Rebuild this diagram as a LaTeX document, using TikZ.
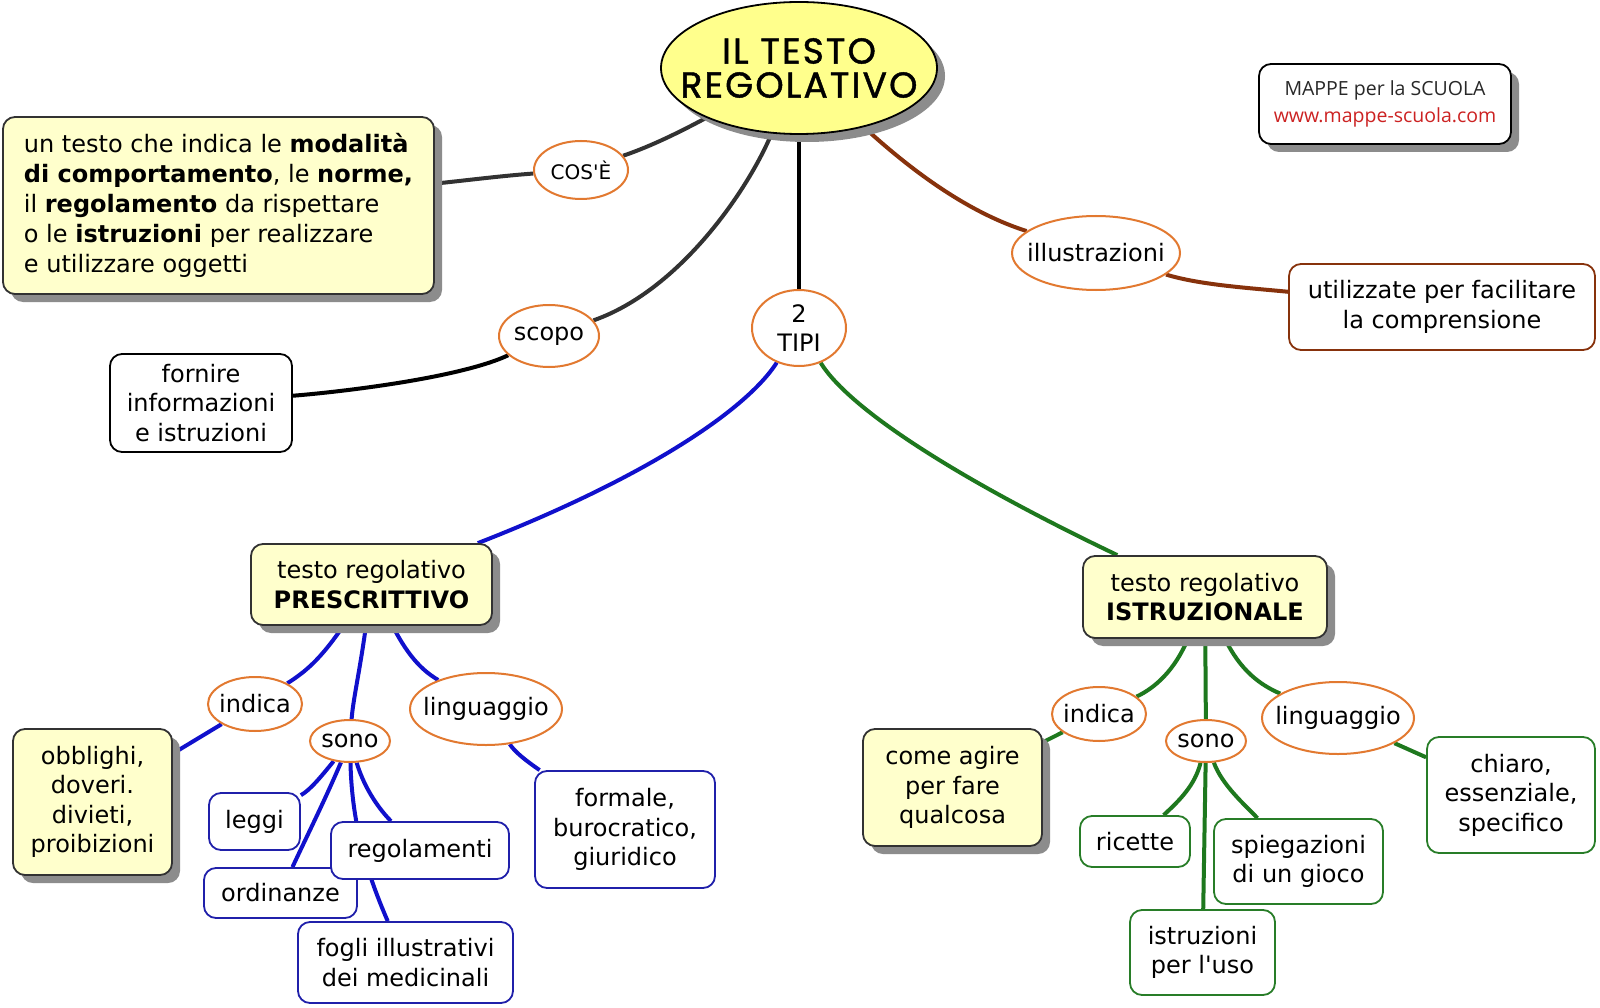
\documentclass[tikz,border=0pt]{standalone}
\usepackage{fontspec}
\setmainfont{DejaVu Sans}
\newfontfamily\titlefont[LetterSpace=6,FakeBold=1.2]{Poppins}
\newfontfamily\wmfont{Open Sans}
\usetikzlibrary{shapes.geometric,shadows}
\pgfdeclarelayer{bg}
\pgfsetlayers{bg,main}
\definecolor{orangeE}{RGB}{226,121,48}
\definecolor{blueL}{RGB}{16,16,204}
\definecolor{blueB}{RGB}{32,32,170}
\definecolor{greenL}{RGB}{30,120,30}
\definecolor{greenB}{RGB}{40,125,40}
\definecolor{brownL}{RGB}{135,50,12}
\definecolor{darkL}{RGB}{50,50,50}
\definecolor{titleY}{RGB}{255,255,140}
\definecolor{lightY}{RGB}{255,255,204}
\definecolor{shadowG}{RGB}{140,140,140}
\definecolor{wmred}{RGB}{204,34,34}
\definecolor{wmgray}{RGB}{40,40,40}
\newcommand\zw[1]{\makebox[0pt]{#1}}
\begin{document}
\begin{tikzpicture}[x=1pt,y=-1pt,
  txt/.style={font=\fontsize{24}{29.5}\selectfont},
  ell/.style={txt,ellipse,draw=orangeE,line width=2pt,fill=white,inner sep=0pt,align=center},
  box/.style={txt,rectangle,rounded corners=12pt,draw=black,line width=1.8pt,fill=white,inner sep=0pt,align=center},
  shad/.style={drop shadow={shadow xshift=8pt,shadow yshift=-8pt,fill=shadowG,opacity=1}},
  ybox/.style={box,fill=lightY,draw=darkL,shad},
  bbox/.style={box,draw=blueB},
  gbox/.style={box,draw=greenB},
  conn/.style={line width=4pt},
  dk/.style={conn,draw=darkL},
  bk/.style={conn,draw=black},
  br/.style={conn,draw=brownL},
  bl/.style={conn,draw=blueL},
  gr/.style={conn,draw=greenL}]
\useasboundingbox (0,0) rectangle (1600,1008);

% title and watermark
\node[ellipse,draw=black,line width=1.8pt,fill=titleY,shad,minimum width=276pt,minimum height=132pt,inner sep=0pt,align=center,
      font=\titlefont\fontsize{36}{34}\selectfont] (title) at (799,68) {\zw{IL TESTO}\\\zw{REGOLATIVO}};
\node[box,shad,minimum width=252pt,minimum height=80pt,font=\wmfont\fontsize{19.5}{27.5}\selectfont,text=wmgray] (wm) at (1385,104)
  {MAPPE per la SCUOLA\\\textcolor{wmred}{www.mappe-scuola.com}};

% top level
\node[ybox,minimum width=431pt,minimum height=177pt,align=left,font=\fontsize{24}{30}\selectfont] (defbox) at (218.5,205.5)
  {un testo che indica le \textbf{modalità}\\\textbf{di comportamento}, le \textbf{norme,}\\il \textbf{regolamento} da rispettare\\o le \textbf{istruzioni} per realizzare\\e utilizzare oggetti};
\node[ell,minimum width=94pt,minimum height=58pt,font=\fontsize{20}{24}\selectfont] (cose) at (581,170) {\zw{COS\textquotesingle È}};
\node[ell,minimum width=100pt,minimum height=62pt] (scopo) at (549,336) {\zw{scopo}};
\node[box,minimum width=182pt,minimum height=98pt] (fornire) at (201,403) {fornire\\informazioni\\e istruzioni};
\node[ell,minimum width=94pt,minimum height=76pt,font=\fontsize{24}{28.5}\selectfont] (tipi) at (799,328) {2\\TIPI};
\node[ell,minimum width=168pt,minimum height=74pt] (illus) at (1096,253) {\zw{illustrazioni}};
\node[box,draw=brownL,minimum width=306pt,minimum height=86pt] (utiliz) at (1442,307) {utilizzate per facilitare\\la comprensione};

% prescrittivo
\node[ybox,minimum width=241pt,minimum height=81pt] (presc) at (371.5,584.5) {testo regolativo\\\textbf{PRESCRITTIVO}};
\node[ell,minimum width=94pt,minimum height=54pt] (indA) at (255,704) {\zw{indica}};
\node[ell,minimum width=80pt,minimum height=42pt] (sonoA) at (350,741) {\zw{sono}};
\node[ell,minimum width=152pt,minimum height=72pt] (lingA) at (486,709) {\zw{linguaggio}};
\node[ybox,minimum width=159pt,minimum height=146pt] (obbl) at (92.5,802) {obblighi,\\doveri.\\divieti,\\proibizioni};
\node[bbox,minimum width=91pt,minimum height=57pt] (leggi) at (254.5,821.5) {leggi};
\node[bbox,minimum width=153pt,minimum height=50pt] (ordin) at (280.5,893) {ordinanze};
\node[bbox,minimum width=178pt,minimum height=57pt] (regol) at (420,850.5) {regolamenti};
\node[bbox,minimum width=215pt,minimum height=81pt] (fogli) at (405.5,962.5) {fogli illustrativi\\dei medicinali};
\node[bbox,minimum width=180pt,minimum height=117pt] (formale) at (625,829.5) {formale,\\burocratico,\\giuridico};

% istruzionale
\node[ybox,minimum width=244pt,minimum height=82pt] (istr) at (1205,597) {testo regolativo\\\textbf{ISTRUZIONALE}};
\node[ell,minimum width=94pt,minimum height=54pt] (indB) at (1099,714) {\zw{indica}};
\node[ell,minimum width=80pt,minimum height=42pt] (sonoB) at (1206,741) {\zw{sono}};
\node[ell,minimum width=152pt,minimum height=72pt] (lingB) at (1338,718) {\zw{linguaggio}};
\node[ybox,minimum width=179pt,minimum height=117pt] (come) at (952.5,787.5) {come agire\\per fare\\qualcosa};
\node[gbox,minimum width=110pt,minimum height=51pt] (ricette) at (1135,841.5) {ricette};
\node[gbox,minimum width=145pt,minimum height=85pt] (istruz) at (1202.5,952.5) {istruzioni\\per l\textquotesingle uso};
\node[gbox,minimum width=169pt,minimum height=85pt] (spieg) at (1298.5,861.5) {spiegazioni\\di un gioco};
\node[gbox,minimum width=168pt,minimum height=116pt] (chiaro) at (1511,795) {chiaro,\\essenziale,\\specifico};

\begin{pgfonlayer}{bg}
\fill[white] (0,0) rectangle (1600,1008);
\draw[dk] (title) .. controls (665,140) and (640,150) .. (cose);
\draw[dk] (cose) .. controls (500,176) and (470,180) .. (defbox);
\draw[dk] (title) .. controls (748,190) and (680,290) .. (scopo);
\draw[bk] (scopo) .. controls (460,378) and (340,392) .. (fornire);
\draw[bk] (title) -- (tipi);
\draw[br] (title) .. controls (900,160) and (960,210) .. (illus);
\draw[br] (illus) .. controls (1200,285) and (1250,288) .. (utiliz);
\draw[bl] (tipi) .. controls (745,412) and (640,480) .. (presc);
\draw[gr] (tipi) .. controls (850,410) and (960,480) .. (istr);

\draw[bl] (presc) .. controls (320,660) and (305,672) .. (indA);
\draw[bl] (presc) .. controls (360,670) and (353,700) .. (sonoA);
\draw[bl] (presc) .. controls (410,660) and (425,672) .. (lingA);
\draw[bl] (indA) -- (obbl);
\draw[bl] (lingA) .. controls (515,752) and (525,760) .. (formale);
\draw[bl] (sonoA) .. controls (320,778) and (310,790) .. (leggi);
\draw[bl] (sonoA) .. controls (325,800) and (305,840) .. (ordin);
\draw[bl] (sonoA) .. controls (365,790) and (380,810) .. (regol);
\draw[bl] (sonoA) .. controls (352,830) and (370,880) .. (fogli);

\draw[gr] (istr) .. controls (1175,670) and (1155,688) .. (indB);
\draw[gr] (istr) -- (sonoB);
\draw[gr] (istr) .. controls (1240,670) and (1260,685) .. (lingB);
\draw[gr] (indB) -- (come);
\draw[gr] (lingB) -- (chiaro);
\draw[gr] (sonoB) .. controls (1195,785) and (1180,800) .. (ricette);
\draw[gr] (sonoB) -- (istruz);
\draw[gr] (sonoB) .. controls (1222,785) and (1245,805) .. (spieg);
\end{pgfonlayer}
\end{tikzpicture}
\end{document}
